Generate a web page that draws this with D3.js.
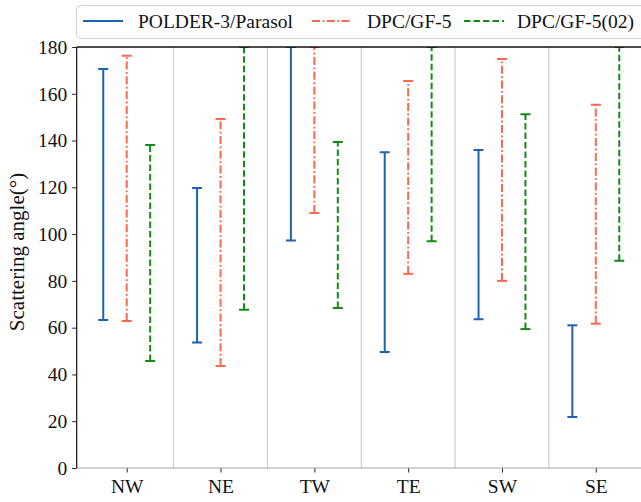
<!DOCTYPE html>
<html>
<head>
<meta charset="utf-8">
<script src="https://cdn.jsdelivr.net/npm/d3@7/dist/d3.min.js"></script>
<style>
  html, body { margin: 0; padding: 0; background: #fff; }
  svg { display: block; }
  text { font-family: "Liberation Serif", "DejaVu Serif", serif; fill: #111; }
</style>
</head>
<body>
<svg id="chart" width="641" height="502"></svg>
<script>
// Regions along the x axis
const categories = ["NW", "NE", "TW", "TE", "SW", "SE"];

// Scattering-angle ranges (degrees) per sensor and region
const polderMin = [63.3, 53.7, 97.3, 49.6, 63.6, 21.8];
const polderMax = [170.6, 119.7, 180, 135.0, 136.0, 61.0];
const gf5Min    = [62.8, 43.6, 109.0, 83.0, 80.0, 61.7];
const gf5Max    = [176.3, 149.2, 180, 165.5, 174.9, 155.3];
const gf502Min  = [45.7, 67.7, 68.4, 97.0, 59.4, 88.6];
const gf502Max  = [138.1, 180, 139.4, 180, 151.3, 180];

const yTicks = [0, 20, 40, 60, 80, 100, 120, 140, 160, 180];

const series = [
  { name: "POLDER-3/Parasol", min: polderMin, max: polderMax, color: "#1f63b0", dash: null,      offset: -0.25 },
  { name: "DPC/GF-5",         min: gf5Min,    max: gf5Max,    color: "#f8694f", dash: "8,2.5,1.8,2.5", offset: 0 },
  { name: "DPC/GF-5(02)",     min: gf502Min,  max: gf502Max,  color: "#168a16", dash: "6.5,3",   offset: 0.25 }
];

const svg = d3.select("#chart");
const plotLeft = 76.7, plotTop = 47, plotBottom = 468, plotRight = 646;

const x = d3.scaleLinear().domain([-0.533, 5.535]).range([plotLeft, plotRight]);
const y = d3.scaleLinear().domain([0, 180]).range([plotBottom, plotTop]);

svg.append("defs").append("clipPath").attr("id", "plot")
  .append("rect").attr("x", plotLeft).attr("y", plotTop)
  .attr("width", plotRight - plotLeft).attr("height", plotBottom - plotTop);

// Group separators between regions
svg.append("g").selectAll("line")
  .data(d3.range(categories.length).map(i => i + 0.5))
  .join("line")
  .attr("x1", d => x(d)).attr("x2", d => x(d))
  .attr("y1", plotTop).attr("y2", plotBottom)
  .attr("stroke", "#c4c4c4").attr("stroke-width", 1);

// Range bars with end caps
const capHalf = 5;
const plot = svg.append("g").attr("clip-path", "url(#plot)");
series.forEach(s => {
  const g = plot.append("g");
  categories.forEach((c, i) => {
    const cx = x(i + s.offset);
    g.append("line")
      .attr("x1", cx).attr("x2", cx)
      .attr("y1", y(s.min[i])).attr("y2", y(s.max[i]))
      .attr("stroke", s.color).attr("stroke-width", 2)
      .attr("stroke-dasharray", s.dash);
    [s.min[i], s.max[i]].forEach(v => {
      g.append("line")
        .attr("x1", cx - capHalf).attr("x2", cx + capHalf)
        .attr("y1", y(v)).attr("y2", y(v))
        .attr("stroke", s.color).attr("stroke-width", 2);
    });
  });
});

// Axes
const yAxis = d3.axisLeft(y).tickValues(yTicks).tickSize(4.5).tickPadding(5).tickFormat(d3.format("d"));
const gy = svg.append("g").attr("transform", `translate(${plotLeft},0)`).call(yAxis)
  .attr("font-family", null).attr("font-size", null);
gy.select(".domain").remove();
gy.selectAll(".tick line").attr("stroke", "#222");
gy.selectAll(".tick text").style("font-size", "19.5px").attr("fill", "#111");

const xAxis = d3.axisBottom(x).tickValues(d3.range(categories.length))
  .tickFormat(i => categories[i]).tickSize(4.5).tickPadding(7);
const gx = svg.append("g").attr("transform", `translate(0,${plotBottom})`).call(xAxis)
  .attr("font-family", null).attr("font-size", null);
gx.select(".domain").remove();
gx.selectAll(".tick line").attr("stroke", "#222");
gx.selectAll(".tick text").style("font-size", "19.5px").attr("fill", "#111");

// Frame
svg.append("line").attr("x1", plotLeft).attr("x2", 641).attr("y1", plotBottom).attr("y2", plotBottom)
  .attr("stroke", "#a8a8a8").attr("stroke-width", 1);
svg.append("line").attr("x1", plotLeft).attr("x2", 641).attr("y1", plotTop).attr("y2", plotTop)
  .attr("stroke", "#111").attr("stroke-width", 1.6);
svg.append("line").attr("x1", plotLeft).attr("x2", plotLeft).attr("y1", plotTop).attr("y2", plotBottom)
  .attr("stroke", "#111").attr("stroke-width", 1.2);

// Y axis title
svg.append("text")
  .attr("transform", `translate(24,252) rotate(-90)`)
  .attr("text-anchor", "middle")
  .style("font-size", "21px")
  .text("Scattering angle(°)");

// Legend
const legend = svg.append("g");
legend.append("rect")
  .attr("x", 76.5).attr("y", 5.5).attr("width", 570).attr("height", 33)
  .attr("rx", 4).attr("fill", "#fff").attr("stroke", "#d0d0d0").attr("stroke-width", 1);
const legendPos = [{ lx: 83, tx: 138 }, { lx: 312, tx: 367 }, { lx: 464, tx: 517 }];
series.forEach((s, i) => {
  const p = legendPos[i];
  legend.append("line")
    .attr("x1", p.lx).attr("x2", p.lx + 40).attr("y1", 21).attr("y2", 21)
    .attr("stroke", s.color).attr("stroke-width", 2).attr("stroke-dasharray", s.dash);
  legend.append("text")
    .attr("x", p.tx).attr("y", 21).attr("dy", "0.35em")
    .style("font-size", "19.5px")
    .text(s.name);
});
</script>
</body>
</html>
